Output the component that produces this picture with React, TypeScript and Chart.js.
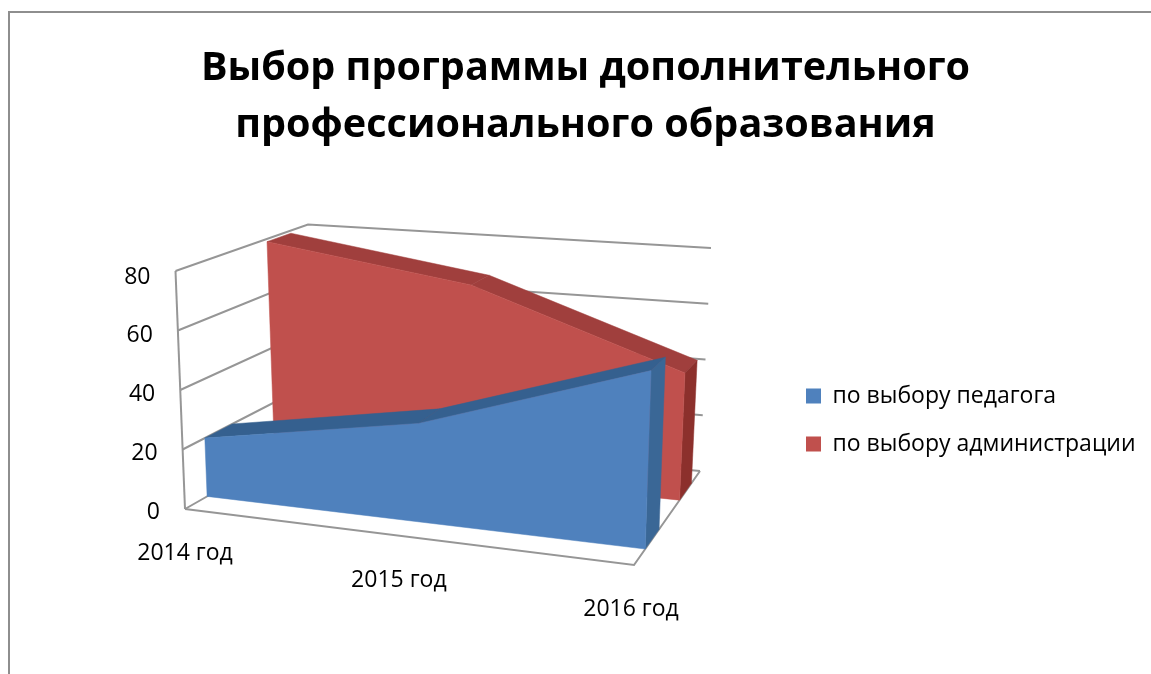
import React, { useEffect, useRef } from "react";
import { Chart, registerables } from "chart.js";

Chart.register(...registerables);

const categories = ["2014 год", "2015 год", "2016 год"];
const teacherValues = [20, 32, 55];
const adminValues = [79, 68, 43];
const teacherName = "по выбору педагога";
const adminName = "по выбору администрации";
const titleLines = ["Выбор программы дополнительного", "профессионального образования"];

const FONT = "'Open Sans', 'Noto Sans', sans-serif";
const GRAY = "#8e8e8e";

// The 3D box of the plot: [x, y] of each corner, named u(left/right) v(bottom/top) w(front/back)
const BOX = {
  u0v0w0: [185, 509], u1v0w0: [634, 565], u0v1w0: [175.5, 271], u1v1w0: [642, 298],
  u0v0w1: [315, 435], u1v0w1: [700, 471], u0v1w1: [308, 224.5], u1v1w1: [711, 248],
};
const lerp = (a: number, b: number, t: number) => a + (b - a) * t;
// perspective foreshortening along the category axis
const foreshorten = (u: number) => Math.pow(u, 1.05);
function project(u: number, v: number, w: number): [number, number] {
  const axis = (k: number) => {
    const bottom = lerp(lerp(BOX.u0v0w0[k], BOX.u1v0w0[k], u), lerp(BOX.u0v0w1[k], BOX.u1v0w1[k], u), w);
    const top = lerp(lerp(BOX.u0v1w0[k], BOX.u1v1w0[k], u), lerp(BOX.u0v1w1[k], BOX.u1v1w1[k], u), w);
    return lerp(bottom, top, v);
  };
  return [axis(0), axis(1)];
}

const DEPTHS = [[0.17, 0.38], [0.69, 0.87]];
const SHADES = [
  { front: "#4f81bd", top: "#35608f", side: "#3a6796" },
  { front: "#c0504d", top: "#a03f3d", side: "#8c302c" },
];
const X_LABEL_SHIFT = [0, -3, -3];

function poly(ctx: CanvasRenderingContext2D, pts: [number, number][], color: string) {
  ctx.beginPath();
  pts.forEach((p, i) => (i ? ctx.lineTo(p[0], p[1]) : ctx.moveTo(p[0], p[1])));
  ctx.closePath();
  ctx.fillStyle = color;
  ctx.strokeStyle = color;
  ctx.lineWidth = 0.5;
  ctx.fill();
  ctx.stroke();
}

const area3d = {
  id: "area3d",
  beforeDraw(chart: any) {
    const xs = chart.scales.x;
    const ys = chart.scales.y;
    // real axis labels, moved onto the edges of the 3D box
    xs.getLabelItems(chart.chartArea).forEach((it: any, i: number) => {
      const [px, py] = project(foreshorten(i / (categories.length - 1)), 0, 0);
      it.options.translation = [px + X_LABEL_SHIFT[i], py + 44.5];
      it.options.textAlign = "center";
      it.options.textBaseline = "middle";
      it.textOffset = 0;
    });
    ys.getLabelItems(chart.chartArea).forEach((it: any, i: number) => {
      const v = ys.ticks[i].value / ys.max;
      const [px, py] = project(0, v, 0);
      it.options.translation = [px - 25, py + 3 + 3 * v];
      it.options.textAlign = "right";
      it.options.textBaseline = "middle";
      it.textOffset = 0;
    });
    const lg = chart.legend;
    const p = lg.options.labels.padding;
    lg.left = 806 - p;
    lg.right = 1151;
    lg.top = 384.5 - p;
    lg.bottom = 674;
  },
  beforeDatasetsDraw(chart: any) {
    const { ctx } = chart;
    const xs = chart.scales.x;
    const ys = chart.scales.y;
    ctx.save();
    ctx.strokeStyle = "#969696";
    ctx.lineWidth = 2;
    ctx.lineJoin = "miter";
    const path = (pts: [number, number][]) => {
      ctx.beginPath();
      pts.forEach((p, i) => (i ? ctx.lineTo(p[0], p[1]) : ctx.moveTo(p[0], p[1])));
      ctx.stroke();
    };
    ys.ticks.forEach((t: any) => {
      const v = t.value / ys.max;
      path([project(0, v, 0), project(0, v, 1), project(1, v, 1)]);
    });
    path([project(0, 0, 0), project(1, 0, 0), project(1, 0, 1)]);
    path([project(0, 0, 0), project(0, 1, 0)]);
    ctx.restore();

    ctx.save();
    [1, 0].forEach((k) => {
      const pts = chart.getDatasetMeta(k).data.map((el: any) => ({
        u: foreshorten((el.x - xs.left) / xs.width),
        v: (ys.bottom - el.y) / ys.height,
      }));
      const [w0, w1] = DEPTHS[k];
      const shade = SHADES[k];
      for (let i = 0; i < pts.length - 1; i++) {
        const a = pts[i];
        const b = pts[i + 1];
        poly(ctx, [project(a.u, a.v, w0), project(b.u, b.v, w0), project(b.u, b.v, w1), project(a.u, a.v, w1)], shade.top);
      }
      const last = pts[pts.length - 1];
      poly(ctx, [project(last.u, last.v, w0), project(last.u, last.v, w1), project(last.u, 0, w1), project(last.u, 0, w0)], shade.side);
      poly(ctx, [
        ...pts.map((q: any) => project(q.u, q.v, w0)),
        project(last.u, 0, w0),
        project(pts[0].u, 0, w0),
      ], shade.front);
    });
    ctx.restore();
  },
};

export default function App() {
  const ref = useRef<HTMLCanvasElement>(null);
  useEffect(() => {
    document.body.style.margin = "0";
    const chart = new Chart(ref.current as HTMLCanvasElement, {
      type: "line",
      data: {
        labels: categories,
        datasets: [
          { label: teacherName, data: teacherValues, backgroundColor: SHADES[0].front, borderWidth: 0, showLine: false, pointRadius: 0 },
          { label: adminName, data: adminValues, backgroundColor: SHADES[1].front, borderWidth: 0, showLine: false, pointRadius: 0 },
        ],
      },
      options: {
        responsive: false,
        animation: false,
        layout: { padding: { left: 20, top: 40, bottom: 40 } },
        scales: {
          x: {
            grid: { display: false },
            border: { display: false },
            ticks: { mirror: true, color: "#000", font: { family: FONT, size: 23 }, autoSkip: false, maxRotation: 0 },
          },
          y: {
            min: 0,
            max: 80,
            grid: { display: false },
            border: { display: false },
            ticks: { mirror: true, stepSize: 20, color: "#000", font: { family: FONT, size: 23 } },
          },
        },
        plugins: {
          tooltip: { enabled: false },
          title: {
            display: true,
            text: titleLines,
            color: "#000",
            font: { family: FONT, size: 39.6, weight: "bold", lineHeight: 1.44 },
            padding: { top: 0, bottom: 20 },
          },
          legend: {
            position: "right",
            align: "start",
            labels: {
              color: "#000",
              boxWidth: 15,
              boxHeight: 15,
              padding: 25,
              font: { family: FONT, size: 23 },
            },
          },
        },
      },
      plugins: [area3d],
    } as any);
    return () => chart.destroy();
  }, []);
  return (
    <div style={{ position: "fixed", inset: 0, overflow: "hidden", background: "#fff" }}>
      <div style={{ position: "absolute", left: 8, top: 11, width: 1300, height: 900, border: `2px solid ${GRAY}` }} />
      <canvas ref={ref} width={1151} height={674} style={{ position: "absolute", left: 0, top: 0, display: "block" }} />
    </div>
  );
}
